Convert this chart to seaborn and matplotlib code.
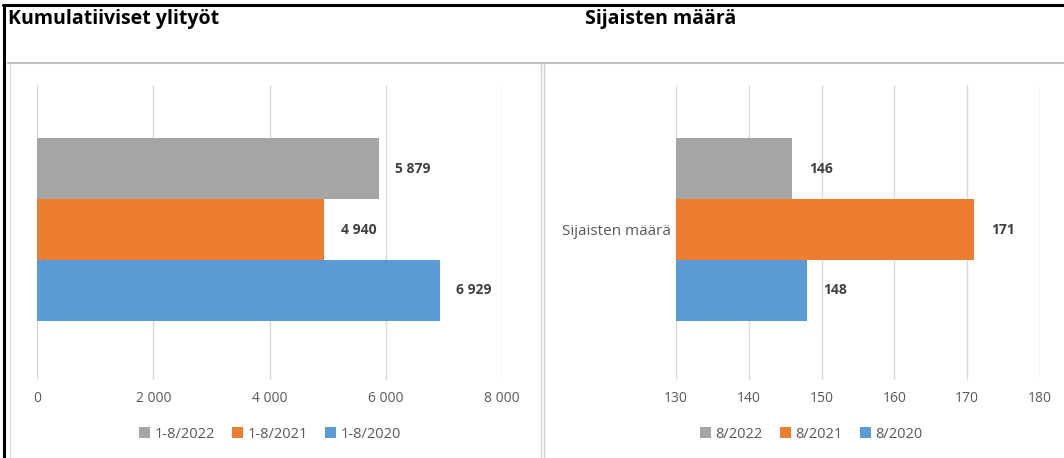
import matplotlib
matplotlib.use("Agg")
import matplotlib.pyplot as plt
from matplotlib.lines import Line2D
import seaborn as sns
import pandas as pd

# ---- data ----
left_title = "Kumulatiiviset ylityöt"
left_series = ["1-8/2022", "1-8/2021", "1-8/2020"]
left_values = [5879, 4940, 6929]
left_ticks = [0, 2000, 4000, 6000, 8000]

right_title = "Sijaisten määrä"
right_category = "Sijaisten määrä"
right_series = ["8/2022", "8/2021", "8/2020"]
right_values = [146, 171, 148]
right_ticks = [130, 140, 150, 160, 170, 180]

colors = ["#A5A5A5", "#ED7D31", "#5B9BD5"]

sns.set_theme(style="white")
plt.rcParams["font.family"] = ["Open Sans", "DejaVu Sans"]

W, H = 1064, 458
fig = plt.figure(figsize=(W / 100, H / 100), dpi=100)

def fx(px):
    return px / W

def fy(py):
    return 1 - py / H

def fmt(v):
    return f"{v:,}".replace(",", " ")

def panel(rect, cat, series, values, xlim, ticks, ylab, legend_cx):
    ax = fig.add_axes(rect)
    df = pd.DataFrame({"cat": [cat] * len(series), "series": series, "value": values})
    sns.barplot(data=df, x="value", y="cat", hue="series", hue_order=series,
                palette=colors, orient="h", width=0.618, saturation=1,
                linewidth=0, edgecolor="none", ax=ax, legend=True)
    ax.set_xlim(*xlim)
    ax.set_ylim(0.51, -0.49)
    ax.set_xticks(ticks)
    ax.set_xticklabels([fmt(t) for t in ticks], color="#595959", fontsize=10)
    ax.tick_params(axis="x", length=0, pad=8)
    ax.tick_params(axis="y", length=0, pad=4)
    ax.set_yticks([0])
    ax.set_yticklabels([ylab], color="#595959", fontsize=11)
    ax.set_xlabel("")
    ax.set_ylabel("")
    ax.grid(axis="x", color="#D9D9D9", linewidth=1)
    ax.set_axisbelow(True)
    for s in ax.spines.values():
        s.set_visible(False)
    for cont in ax.containers:
        vals = [int(round(b.get_width())) for b in cont]
        ax.bar_label(cont, labels=[fmt(v) for v in vals], padding=12,
                     fontsize=10, fontweight="bold", color="#404040")
    leg = ax.get_legend()
    handles, labels = ax.get_legend_handles_labels()
    leg.remove()
    fig.legend(handles, labels, loc="center", bbox_to_anchor=(fx(legend_cx), fy(434)),
               ncol=3, frameon=False, fontsize=10.5, handlelength=0.75, handleheight=0.75,
               handletextpad=0.3, columnspacing=1.2, labelcolor="#595959")
    return ax

# left panel: 0 at x=37, 8000 at x=502; gridlines y 85..380
panel([fx(37), fy(380), fx(502 - 37), (380 - 85) / H], left_title, left_series,
      left_values, (0, 8000), left_ticks, "", 270)
# right panel: 130 at x=676, 180 at x=1040
panel([fx(676), fy(380), fx(1040 - 676), (380 - 85) / H], right_category, right_series,
      right_values, (130, 180), right_ticks, right_category, 811)

# titles
fig.text(fx(8), fy(19), left_title, fontsize=14, fontweight="bold", color="black",
         ha="left", va="center")
fig.text(fx(585), fy(19), right_title, fontsize=14, fontweight="bold", color="black",
         ha="left", va="center")

# frame lines
fig.add_artist(Line2D([fx(3), 1], [fy(5), fy(5)], color="black", linewidth=2.2))
fig.add_artist(Line2D([fx(4), fx(4)], [fy(5), 0], color="black", linewidth=2.2))
fig.add_artist(Line2D([fx(8), 1], [fy(63), fy(63)], color="#BFBFBF", linewidth=1.5))
fig.add_artist(Line2D([fx(10), fx(10)], [fy(63), 0], color="#D9D9D9", linewidth=1))
fig.add_artist(Line2D([fx(541), fx(541)], [fy(63), 0], color="#D0D0D0", linewidth=1))
fig.add_artist(Line2D([fx(544), fx(544)], [fy(63), 0], color="#D0D0D0", linewidth=1))

fig.savefig("out.png", dpi=100, facecolor="white")
